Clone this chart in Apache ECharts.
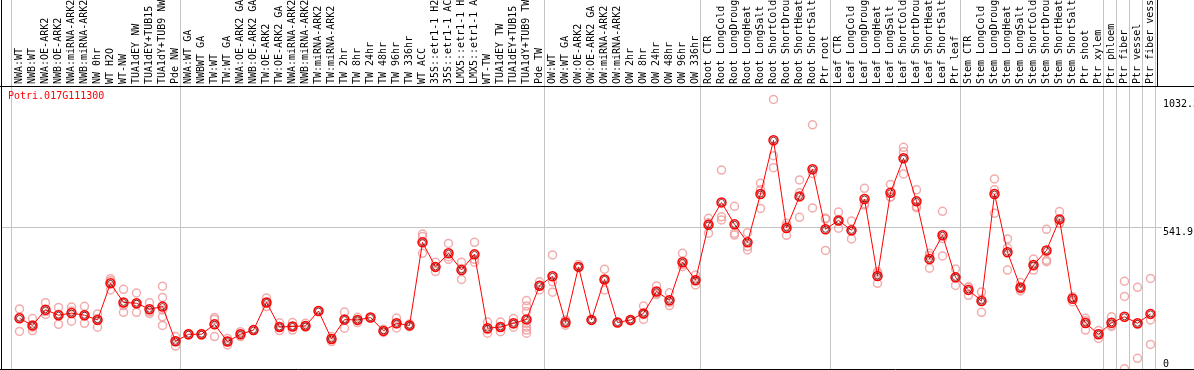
<!DOCTYPE html>
<html>
<head>
<meta charset="utf-8">
<script src="https://cdn.jsdelivr.net/npm/echarts@6.0.0/dist/echarts.min.js"></script>
<style>
  html, body { margin: 0; padding: 0; background: #fff; }
  #chart { width: 1194px; height: 370px; }
</style>
</head>
<body>
<div id="chart"></div>
<script>
const geneName = 'Potri.017G111300';

const categories = [
  'NWA:WT', 'NWB:WT', 'NWA:OE-ARK2', 'NWB:OE-ARK2', 'NWA:miRNA-ARK2', 'NWB:miRNA-ARK2',
  'NW 0hr', 'WT H2O', 'WT-NW', 'TUA1dEY NW', 'TUA1dEY+TUB15 NW', 'TUA1dY+TUB9 NW', 'Pde NW',
  'NWA:WT GA', 'NWBWT GA', 'TW:WT', 'TW:WT GA', 'NWA:OE-ARK2 GA', 'NWB:OE-ARK2 GA',
  'TW:OE-ARK2', 'TW:OE-ARK2 GA', 'NWA:miRNA-ARK2 GA', 'NWB:miRNA-ARK2 GA', 'TW:miRNA-ARK2',
  'TW:miRNA-ARK2 GA', 'TW 2hr', 'TW 8hr', 'TW 24hr', 'TW 48hr', 'TW 96hr', 'TW 336hr', 'WT ACC',
  '35S::etr1-1 H2O', '35S::etr1-1 ACC', 'LMX5::etr1-1 H2O', 'LMX5::etr1-1 ACC', 'WT-TW',
  'TUA1dEY TW', 'TUA1dEY+TUB15 TW', 'TUA1dY+TUB9 TW', 'Pde TW',
  'OW:WT', 'OW:WT GA', 'OW:OE-ARK2', 'OW:OE-ARK2 GA', 'OW:miRNA-ARK2', 'OW:miRNA-ARK2 GA',
  'OW 2hr', 'OW 8hr', 'OW 24hr', 'OW 48hr', 'OW 96hr', 'OW 336hr',
  'Root CTR', 'Root LongCold', 'Root LongDrought', 'Root LongHeat', 'Root LongSalt',
  'Root ShortCold', 'Root ShortDrought', 'Root ShortHeat', 'Root ShortSalt', 'Ptr root',
  'Leaf CTR', 'Leaf LongCold', 'Leaf LongDrought', 'Leaf LongHeat', 'Leaf LongSalt',
  'Leaf ShortCold', 'Leaf ShortDrought', 'Leaf ShortHeat', 'Leaf ShortSalt', 'Ptr leaf',
  'Stem CTR', 'Stem LongCold', 'Stem LongDrought', 'Stem LongHeat', 'Stem LongSalt',
  'Stem ShortCold', 'Stem ShortDrought', 'Stem ShortHeat', 'Stem ShortSalt', 'Ptr shoot',
  'Ptr xylem', 'Ptr phloem', 'Ptr fiber', 'Ptr vessel', 'Ptr fiber vessel'
];

// mean expression per sample
const means = [
  194, 167, 227, 206, 214, 206, 188, 328, 255, 252, 229, 239, 106,
  133, 133, 171, 105, 133, 149, 255, 161, 163, 165, 222, 115, 189, 188, 197, 146, 175, 167,
  485, 391, 443, 379, 439, 156, 161, 175, 190, 319, 355,
  178, 391, 188, 343, 178, 188, 213, 297, 263, 409, 340,
  552, 638, 554, 485, 670, 876, 540, 661, 765, 535,
  569, 531, 651, 356, 675, 807, 642, 421, 512, 351,
  303, 260, 670, 447, 312, 398, 454, 573, 269, 176, 133,
  177, 200, 175, 211
];

// individual replicates per sample
const replicates = [
  [230, 144, 200], [193, 147, 160], [254, 209, 220], [236, 171, 210], [237, 183, 222],
  [240, 175, 203], [211, 160, 193], [346, 303, 338], [305, 217, 243], [291, 217, 248],
  [254, 213, 219], [317, 274, 226, 200, 167], [124, 88, 106],
  [130, 136], [130, 136], [197, 124, 191], [117, 92, 106], [143, 124, 133], [149],
  [272, 239, 254], [177, 147, 161], [178, 149, 163], [175, 160, 165], [222],
  [124, 105, 115], [218, 156, 192], [178, 188, 198], [197], [152, 146, 140],
  [195, 157, 173], [162, 167, 172], [517, 507, 443], [373, 391, 409], [481, 420, 430],
  [409, 343, 385], [485, 409, 420], [180, 137, 151], [180, 143, 160], [193, 160, 172],
  [262, 241, 220, 175, 160, 149, 137], [334, 303, 320], [437, 334, 294],
  [188, 168, 178], [400, 391], [188], [382, 303, 343], [178], [184, 188],
  [241, 190, 208], [318, 285, 290], [292, 243, 255], [443, 392, 400], [360, 322, 338],
  [577, 520, 560], [762, 583, 571], [623, 520, 513], [522, 469, 456], [711, 686, 615],
  [1032.3, 817, 771], [558, 512, 549], [724, 675, 581], [935, 749, 617], [577, 454, 574],
  [601, 539, 567], [567, 498, 528], [692, 628, 633], [373, 328, 367], [707, 660, 658],
  [849, 832, 747], [686, 622, 618], [443, 386, 434], [604, 433, 500], [383, 320, 349],
  [315, 282, 312], [295, 217, 268], [728, 686, 596], [498, 379, 464], [331, 299, 306],
  [421, 379, 394], [535, 411, 416], [603, 558, 558], [277, 258, 272], [194, 149, 185],
  [147, 117, 135], [200, 163, 168], [336, 278, 1], [313, 41, 171], [347, 188, 94]
];

// first sample index of each block (vertical separators)
const groupStarts = [0, 13, 41, 53, 63, 73, 84, 85, 86, 87, 88];

const yMax = 1083.8;
const yLabels = [541.9, 1032.3];
const yZero = [0];

const font = 'DejaVu Sans Mono';

const meanPoints = means.map((v, i) => [i, v]);
const repPoints = [];
replicates.forEach((list, i) => {
  list.forEach(v => repPoints.push([i, v]));
});

const chart = echarts.init(document.getElementById('chart'));

const option = {
  animation: false,
  backgroundColor: '#fff',
  title: {
    text: geneName,
    left: 8,
    top: 91,
    padding: 0,
    textStyle: { color: '#ff0000', fontSize: 10, fontWeight: 'normal', fontFamily: font }
  },
  grid: { left: 13, top: 86, width: 1144, height: 283, outerBoundsMode: 'none', containLabel: false },
  xAxis: [
    {
      type: 'value',
      min: -0.5,
      max: 87.5,
      show: false
    },
    {
      type: 'category',
      position: 'top',
      data: categories,
      boundaryGap: true,
      axisLine: { show: false },
      axisTick: { show: false },
      splitLine: { show: false },
      axisLabel: {
        interval: 0,
        rotate: 90,
        margin: 2,
        color: '#000',
        fontSize: 10,
        fontFamily: font
      }
    }
  ],
  yAxis: [
    {
      type: 'value',
      min: 0,
      max: yMax,
      position: 'right',
      axisLine: { show: false },
      axisTick: { show: false },
      splitLine: { show: false },
      axisLabel: {
        customValues: yLabels,
        margin: 6,
        verticalAlign: 'top',
        color: '#000',
        fontSize: 10,
        fontFamily: font,
        formatter: v => String(v)
      }
    },
    {
      type: 'value',
      min: 0,
      max: yMax,
      position: 'right',
      axisLine: { show: false },
      axisTick: { show: false },
      splitLine: { show: false },
      axisLabel: {
        customValues: yZero,
        margin: 6,
        verticalAlign: 'bottom',
        color: '#000',
        fontSize: 10,
        fontFamily: font
      }
    }
  ],
  series: [
    {
      name: 'replicates',
      type: 'scatter',
      xAxisIndex: 0,
      yAxisIndex: 0,
      data: repPoints,
      symbol: 'circle',
      symbolSize: 8,
      itemStyle: { color: 'rgba(0,0,0,0)', borderColor: '#ee9999', borderWidth: 1.5 },
      z: 3
    },
    {
      name: 'mean',
      type: 'line',
      xAxisIndex: 0,
      yAxisIndex: 0,
      data: meanPoints,
      symbol: 'circle',
      symbolSize: 9,
      showAllSymbol: true,
      lineStyle: { color: '#ff0000', width: 1 },
      itemStyle: { color: 'rgba(0,0,0,0)', borderColor: '#ff0000', borderWidth: 1.5 },
      z: 4
    },
    {
      name: 'mean core',
      type: 'scatter',
      xAxisIndex: 0,
      yAxisIndex: 0,
      data: meanPoints,
      symbol: 'circle',
      symbolSize: 6,
      itemStyle: { color: 'rgba(0,0,0,0)', borderColor: '#600000', borderWidth: 1 },
      z: 5
    }
  ]
};

chart.setOption(option);

// separators, grid line and frame
const graphics = [];
groupStarts.forEach(k => {
  const x = chart.convertToPixel({ xAxisIndex: 0 }, k - 0.615);
  graphics.push({
    type: 'line', z: 0,
    shape: { x1: x, y1: 0, x2: x, y2: 369 },
    style: { stroke: '#c4c4c4', lineWidth: 1 }
  });
});
const yMid = Math.floor(chart.convertToPixel({ yAxisIndex: 0 }, yLabels[0])) + 0.5;
graphics.push({
  type: 'line', z: 0,
  shape: { x1: 2, y1: yMid, x2: 1162, y2: yMid },
  style: { stroke: '#c4c4c4', lineWidth: 1 }
});
const frame = [
  [1.5, 0, 1.5, 370],
  [0, 86.5, 1194, 86.5],
  [0, 369.5, 1194, 369.5],
  [1157.5, 0, 1157.5, 86]
];
frame.forEach(f => {
  graphics.push({
    type: 'line', z: 10,
    shape: { x1: f[0], y1: f[1], x2: f[2], y2: f[3] },
    style: { stroke: '#000', lineWidth: 1 }
  });
});
chart.setOption({ graphic: graphics });
</script>
</body>
</html>
